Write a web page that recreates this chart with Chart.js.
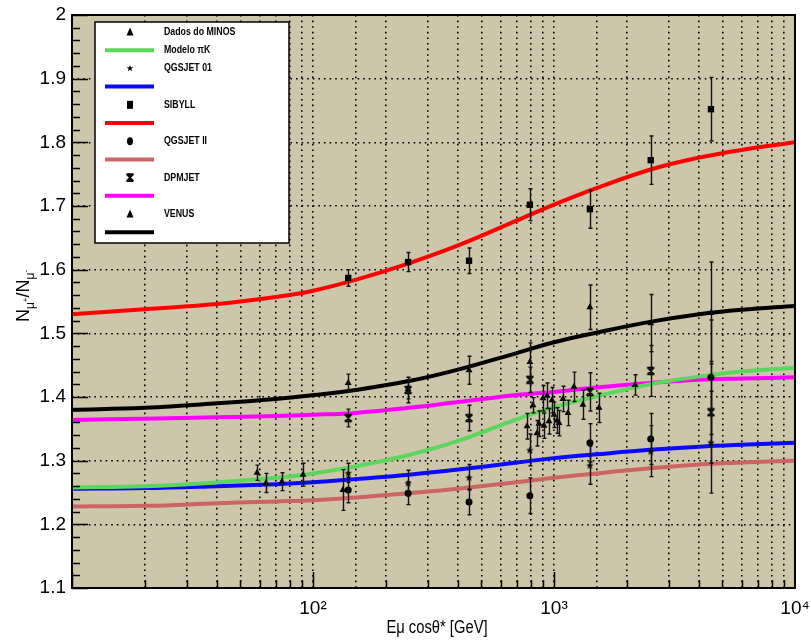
<!DOCTYPE html>
<html>
<head>
<meta charset="utf-8">
<script src="https://cdn.jsdelivr.net/npm/chart.js@4.4.0/dist/chart.umd.min.js"></script>
<style>
html, body { margin: 0; padding: 0; background: #fff; }
</style>
</head>
<body>
<canvas id="c" width="811" height="643"></canvas>
<script>
// model curves (energy in GeV)
var curveE = [10, 20, 40, 70, 100, 150, 250, 400, 700, 1000, 1500, 2500, 4000, 6000, 10000];
var curvePiK      = [1.258, 1.260, 1.266, 1.273, 1.280, 1.291, 1.309, 1.331, 1.365, 1.384, 1.401, 1.420, 1.432, 1.440, 1.446];
var curveQGSJET01 = [1.256, 1.257, 1.260, 1.263, 1.266, 1.271, 1.278, 1.286, 1.297, 1.304, 1.310, 1.317, 1.322, 1.325, 1.328];
var curveSIBYLL   = [1.530, 1.538, 1.546, 1.557, 1.567, 1.584, 1.610, 1.638, 1.677, 1.702, 1.728, 1.757, 1.776, 1.788, 1.800];
var curveQGSJETII = [1.228, 1.229, 1.233, 1.236, 1.238, 1.242, 1.249, 1.256, 1.266, 1.273, 1.280, 1.288, 1.294, 1.297, 1.300];
var curveDPMJET   = [1.364, 1.366, 1.368, 1.370, 1.372, 1.375, 1.383, 1.392, 1.403, 1.408, 1.415, 1.422, 1.427, 1.429, 1.431];
var curveVENUS    = [1.380, 1.383, 1.390, 1.397, 1.403, 1.411, 1.425, 1.443, 1.469, 1.486, 1.501, 1.518, 1.530, 1.537, 1.543];

// simulated points
var modelE = [140, 248, 444, 794, 1409, 2520, 4480];
var ptsQGSJET01 = [1.281, 1.265, 1.274, 1.317, 1.293, 1.315, 1.329];
var errQGSJET01 = [0.015, 0.020, 0.020, 0.025, 0.030, 0.040, 0.080];
var ptsSIBYLL   = [1.587, 1.612, 1.614, 1.702, 1.695, 1.772, 1.852];
var errSIBYLL   = [0.013, 0.015, 0.020, 0.025, 0.030, 0.038, 0.050];
var ptsQGSJETII = [1.254, 1.249, 1.235, 1.245, 1.328, 1.334, 1.431];
var errQGSJETII = [0.020, 0.018, 0.020, 0.028, 0.030, 0.040, 0.090];
var ptsDPMJET   = [1.367, 1.411, 1.367, 1.427, 1.408, 1.441, 1.376];
var errDPMJET   = [0.014, 0.020, 0.020, 0.020, 0.030, 0.040, 0.080];
var ptsVENUS    = [1.422, 1.412, 1.442, 1.455, 1.541, 1.516, 1.532];
var errVENUS    = [0.014, 0.015, 0.022, 0.030, 0.035, 0.045, 0.080];

// MINOS data
var minosE   = [58.6, 63.8, 74.3, 90.9, 133, 773, 818, 850, 866, 900, 909, 936, 953, 981, 1000, 1029, 1049, 1089, 1143, 1210, 1319, 1537, 2168];
var minosVal = [1.281, 1.265, 1.267, 1.278, 1.254, 1.354, 1.387, 1.343, 1.358, 1.398, 1.355, 1.402, 1.362, 1.395, 1.372, 1.363, 1.359, 1.397, 1.375, 1.416, 1.388, 1.383, 1.419];
var minosErr = [0.012, 0.015, 0.014, 0.018, 0.032, 0.020, 0.012, 0.020, 0.020, 0.020, 0.020, 0.020, 0.020, 0.020, 0.020, 0.020, 0.020, 0.020, 0.020, 0.023, 0.023, 0.023, 0.016];

var yTicks = [1.1, 1.2, 1.3, 1.4, 1.5, 1.6, 1.7, 1.8, 1.9, 2];

var legendRows = [
  { text: 'Dados do MINOS', marker: 'triangle' },
  { text: 'Modelo \u03c0K', line: '#5cd65c' },
  { text: 'QGSJET 01', marker: 'star' },
  { text: '', line: '#0a0aff' },
  { text: 'SIBYLL', marker: 'rect' },
  { text: '', line: '#ff0000' },
  { text: 'QGSJET II', marker: 'circle' },
  { text: '', line: '#cc6464' },
  { text: 'DPMJET', marker: 'dpm' },
  { text: '', line: '#ff00ff' },
  { text: 'VENUS', marker: 'triangle' },
  { text: '', line: '#000000' }
];

function pts(xs, ys) {
  return xs.map(function(x, i) { return { x: x, y: ys[i] }; });
}

function markerCanvas(size, draw) {
  var c = document.createElement('canvas');
  c.width = size; c.height = size;
  draw(c.getContext('2d'), size);
  return c;
}
function drawStar(g, cx, cy, R) {
  g.beginPath();
  for (var i = 0; i < 10; i++) {
    var r = i % 2 ? R * 0.42 : R;
    var a = -Math.PI / 2 + i * Math.PI / 5;
    g.lineTo(cx + r * Math.cos(a), cy + r * Math.sin(a));
  }
  g.closePath();
  g.fill();
}
function drawDpm(g, cx, cy, h) {
  g.beginPath();
  g.moveTo(cx - h, cy - h); g.lineTo(cx + h, cy + h);
  g.moveTo(cx + h, cy - h); g.lineTo(cx - h, cy + h);
  g.moveTo(cx - h, cy - h); g.lineTo(cx + h, cy - h);
  g.moveTo(cx - h, cy + h); g.lineTo(cx + h, cy + h);
  g.moveTo(cx, cy - h); g.lineTo(cx, cy + h);
  g.stroke();
}
var starImg = markerCanvas(9, function(g, s) { g.fillStyle = '#000'; drawStar(g, s / 2, s / 2 + 0.5, 4); });
var dpmImg = markerCanvas(10, function(g, s) { g.strokeStyle = '#000'; g.lineWidth = 1.6; drawDpm(g, s / 2, s / 2, 3.5); });

function pointSet(label, xs, ys, errs, style, radius) {
  return {
    type: 'scatter', label: label, data: pts(xs, ys), errors: errs,
    pointStyle: style, pointRadius: radius, pointHoverRadius: radius,
    backgroundColor: '#000', borderColor: '#000', borderWidth: 0, showLine: false
  };
}
function curveSet(label, ys, color) {
  return {
    type: 'scatter', label: label, data: pts(curveE, ys), showLine: true,
    borderColor: color, borderWidth: 4, pointRadius: 0, pointHoverRadius: 0,
    tension: 0.4, fill: false
  };
}

var bgPlugin = {
  id: 'bg',
  beforeDraw: function(chart) {
    var ctx = chart.ctx, a = chart.chartArea;
    ctx.save();
    ctx.fillStyle = '#fff';
    ctx.fillRect(0, 0, chart.width, chart.height);
    ctx.fillStyle = '#cdc6aa';
    ctx.fillRect(a.left, a.top, a.right - a.left, a.bottom - a.top);
    ctx.restore();
  }
};

var errorBars = {
  id: 'errorBars',
  afterDatasetsDraw: function(chart) {
    var ctx = chart.ctx, xs = chart.scales.x, ys = chart.scales.y;
    ctx.save();
    ctx.strokeStyle = '#111';
    ctx.lineWidth = 1.4;
    chart.data.datasets.forEach(function(ds) {
      if (!ds.errors) return;
      ds.data.forEach(function(p, i) {
        var px = Math.round(xs.getPixelForValue(p.x)) + 0.5;
        var y1 = ys.getPixelForValue(p.y + ds.errors[i]);
        var y2 = ys.getPixelForValue(p.y - ds.errors[i]);
        ctx.beginPath();
        ctx.moveTo(px, y1); ctx.lineTo(px, y2);
        ctx.moveTo(px - 2, y1); ctx.lineTo(px + 2, y1);
        ctx.moveTo(px - 2, y2); ctx.lineTo(px + 2, y2);
        ctx.stroke();
      });
    });
    ctx.restore();
  }
};

var framePlugin = {
  id: 'frame',
  afterDraw: function(chart) {
    var ctx = chart.ctx, a = chart.chartArea, xs = chart.scales.x, ys = chart.scales.y;
    ctx.save();
    ctx.strokeStyle = '#000';
    ctx.lineWidth = 1.5;
    // y ticks
    for (var k = 0; k <= 45; k++) {
      var v = 1.1 + k * 0.02;
      var py = Math.round(ys.getPixelForValue(v)) + 0.5;
      var len = (k % 5 === 0) ? 16 : 8;
      ctx.beginPath(); ctx.moveTo(a.left, py); ctx.lineTo(a.left + len, py); ctx.stroke();
    }
    // x ticks
    [10, 100, 1000].forEach(function(dec) {
      for (var m = 1; m <= 9; m++) {
        var px = Math.round(xs.getPixelForValue(dec * m)) + 0.5;
        var len = (m === 1) ? 16 : 8;
        ctx.beginPath(); ctx.moveTo(px, a.bottom); ctx.lineTo(px, a.bottom - len); ctx.stroke();
      }
    });
    ctx.lineWidth = 2;
    ctx.strokeRect(a.left, a.top, a.right - a.left, a.bottom - a.top);

    // legend box
    var lx = 95, ly = 22, lw = 194, lh = 221;
    ctx.fillStyle = '#fff';
    ctx.fillRect(lx, ly, lw, lh);
    ctx.lineWidth = 1.5;
    ctx.strokeRect(lx, ly, lw, lh);
    legendRows.forEach(function(r, i) {
      var cy = 32 + i * 18.2;
      if (r.line) {
        ctx.strokeStyle = r.line; ctx.lineWidth = 4;
        ctx.beginPath(); ctx.moveTo(105, cy); ctx.lineTo(154, cy); ctx.stroke();
      }
      ctx.fillStyle = '#000'; ctx.strokeStyle = '#000';
      if (r.marker === 'triangle') {
        ctx.beginPath(); ctx.moveTo(130, cy - 4.5); ctx.lineTo(133.5, cy + 3.5); ctx.lineTo(126.5, cy + 3.5); ctx.closePath(); ctx.fill();
      } else if (r.marker === 'star') {
        drawStar(ctx, 130, cy, 3.5);
      } else if (r.marker === 'rect') {
        ctx.fillRect(127, cy - 4, 6, 8);
      } else if (r.marker === 'circle') {
        ctx.beginPath(); ctx.ellipse(130, cy, 3, 4, 0, 0, Math.PI * 2); ctx.fill();
      } else if (r.marker === 'dpm') {
        ctx.lineWidth = 1.6; drawDpm(ctx, 130, cy, 3.5);
      }
      if (r.text) {
        ctx.save();
        ctx.translate(164, cy);
        ctx.scale(0.8, 1);
        ctx.font = 'bold 11px "Liberation Sans", Arial, sans-serif';
        ctx.textBaseline = 'middle';
        ctx.fillText(r.text, 0, 0);
        ctx.restore();
      }
    });

    // x title
    ctx.save();
    ctx.translate(437, 628);
    ctx.scale(0.82, 1);
    ctx.font = '18px "Liberation Sans", Arial, sans-serif';
    ctx.textAlign = 'center';
    ctx.textBaseline = 'middle';
    ctx.fillStyle = '#000';
    ctx.fillText('E\u03bc cos\u03b8* [GeV]', 0, 0);
    ctx.restore();

    // y title  N_{mu+}/N_{mu-}
    ctx.save();
    ctx.translate(29, 296);
    ctx.rotate(-Math.PI / 2);
    ctx.fillStyle = '#000';
    ctx.textBaseline = 'alphabetic';
    var big = '18px "Liberation Sans", Arial, sans-serif';
    var sub = '12px "Liberation Sans", Arial, sans-serif';
    var sup = '8px "Liberation Sans", Arial, sans-serif';
    var parts = [
      { t: 'N', f: big, dy: 0 }, { t: '\u03bc', f: sub, dy: 5 }, { t: '+', f: sup, dy: -1 },
      { t: '/', f: big, dy: 0 },
      { t: 'N', f: big, dy: 0 }, { t: '\u03bc', f: sub, dy: 5 }, { t: '-', f: sup, dy: -1 }
    ];
    var total = 0;
    parts.forEach(function(p) { ctx.font = p.f; p.w = ctx.measureText(p.t).width; total += p.w; });
    var x0 = -total / 2;
    parts.forEach(function(p) { ctx.font = p.f; ctx.fillText(p.t, x0, p.dy); x0 += p.w; });
    ctx.restore();

    ctx.restore();
  }
};

var datasets = [
  pointSet('Dados do MINOS', minosE, minosVal, minosErr, 'triangle', 4),
  pointSet('QGSJET 01', modelE, ptsQGSJET01, errQGSJET01, starImg, 4),
  pointSet('SIBYLL', modelE, ptsSIBYLL, errSIBYLL, 'rect', 4.5),
  pointSet('QGSJET II', modelE, ptsQGSJETII, errQGSJETII, 'circle', 3.5),
  pointSet('DPMJET', modelE, ptsDPMJET, errDPMJET, dpmImg, 4),
  pointSet('VENUS', modelE, ptsVENUS, errVENUS, 'triangle', 4),
  curveSet('Modelo \u03c0K', curvePiK, '#5cd65c'),
  curveSet('QGSJET 01 curve', curveQGSJET01, '#0a0aff'),
  curveSet('SIBYLL curve', curveSIBYLL, '#ff0000'),
  curveSet('QGSJET II curve', curveQGSJETII, '#cc6464'),
  curveSet('DPMJET curve', curveDPMJET, '#ff00ff'),
  curveSet('VENUS curve', curveVENUS, '#000000')
];

var tickFont = { family: '"Liberation Sans", Arial, sans-serif', size: 19 };

new Chart(document.getElementById('c'), {
  type: 'scatter',
  data: { datasets: datasets },
  options: {
    responsive: false,
    animation: false,
    devicePixelRatio: 1,
    layout: { padding: { left: 0, right: 16, top: 15, bottom: 0 } },
    plugins: { legend: { display: false }, tooltip: { enabled: false } },
    scales: {
      x: {
        type: 'logarithmic', min: 10, max: 10000,
        afterFit: function(s) { s.height = 55; s.paddingLeft = 0; s.paddingRight = 0; },
        border: { display: false, dash: [1.6, 4] },
        grid: { color: '#000', lineWidth: 1.6, drawTicks: false },
        ticks: {
          autoSkip: false, maxRotation: 0, padding: 9, color: '#000', font: tickFont,
          callback: function(v) {
            var l = Math.log10(v), r = Math.round(l);
            if (Math.abs(l - r) > 1e-6 || r < 2) return '';
            return '10' + ['\u00b2', '\u00b3', '\u2074'][r - 2];
          }
        }
      },
      y: {
        min: 1.1, max: 2,
        afterFit: function(s) { s.width = 72; s.paddingTop = 0; s.paddingBottom = 0; },
        afterBuildTicks: function(s) { s.ticks = yTicks.map(function(v) { return { value: v }; }); },
        border: { display: false, dash: [1.6, 4] },
        grid: { color: '#000', lineWidth: 1.6, drawTicks: false },
        ticks: {
          padding: 6, color: '#000', font: tickFont,
          callback: function(v) { return String(Math.round(v * 10) / 10); }
        }
      }
    }
  },
  plugins: [bgPlugin, errorBars, framePlugin]
});
</script>
</body>
</html>
